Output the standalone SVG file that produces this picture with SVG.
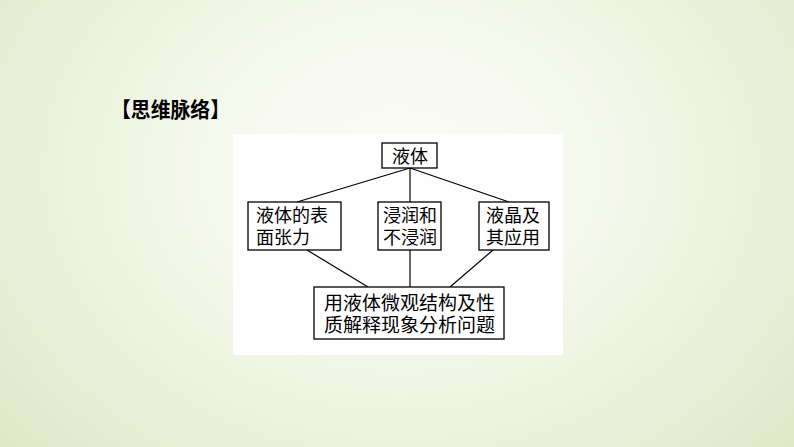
<svg xmlns="http://www.w3.org/2000/svg" width="794" height="447" viewBox="0 0 794 447">
<defs>
<radialGradient id="bg" cx="400" cy="170" r="520" gradientUnits="userSpaceOnUse" gradientTransform="translate(400 170) scale(1 0.8) translate(-400 -170)">
<stop offset="0" stop-color="#fbfcf7"/>
<stop offset="0.35" stop-color="#f6f9ee"/>
<stop offset="1" stop-color="#dfe9c9"/>
</radialGradient>
<style>
.box{fill:#ffffff;stroke:#000;stroke-width:1.3}
.t{font-family:"Noto Sans CJK SC","Noto Sans CJK JP",sans-serif;font-size:18px;fill:#000}
.ln{stroke:#000;stroke-width:1.2;fill:none}
</style>
</defs>
<rect width="794" height="447" fill="url(#bg)"/>
<text x="111" y="117" textLength="119" lengthAdjust="spacingAndGlyphs" style="font-family:'Noto Sans CJK SC',sans-serif;font-size:21px;font-weight:bold;fill:#000">【思维脉络】</text>
<rect x="233" y="134" width="330" height="221" fill="#fefefe"/>
<g id="connectors">
<line class="ln" x1="410" y1="168" x2="297" y2="202"/>
<line class="ln" x1="410" y1="168" x2="410" y2="202"/>
<line class="ln" x1="410" y1="168" x2="509" y2="202"/>
<line class="ln" x1="307" y1="250" x2="368" y2="287"/>
<line class="ln" x1="410" y1="250" x2="410" y2="287"/>
<line class="ln" x1="493" y1="250" x2="450" y2="287"/>
</g>
<g id="n0">
<rect class="box" x="382" y="143" width="55" height="25"/>
<text class="t" x="392" y="163">液体</text>
</g>
<g id="n1">
<rect class="box" x="248" y="202" width="93" height="48"/>
<text class="t" x="256" y="222">液体的表</text>
<text class="t" x="256" y="244">面张力</text>
</g>
<g id="n2">
<rect class="box" x="378" y="202" width="63" height="48"/>
<text class="t" x="383" y="222">浸润和</text>
<text class="t" x="383" y="244">不浸润</text>
</g>
<g id="n3">
<rect class="box" x="479" y="202" width="70" height="48"/>
<text class="t" x="486" y="222">液晶及</text>
<text class="t" x="486" y="244">其应用</text>
</g>
<g id="n4">
<rect class="box" x="314" y="287" width="190" height="52"/>
<text class="t" x="324" y="310" style="font-size:19px">用液体微观结构及性</text>
<text class="t" x="324" y="332" style="font-size:19px">质解释现象分析问题</text>
</g>
</svg>
